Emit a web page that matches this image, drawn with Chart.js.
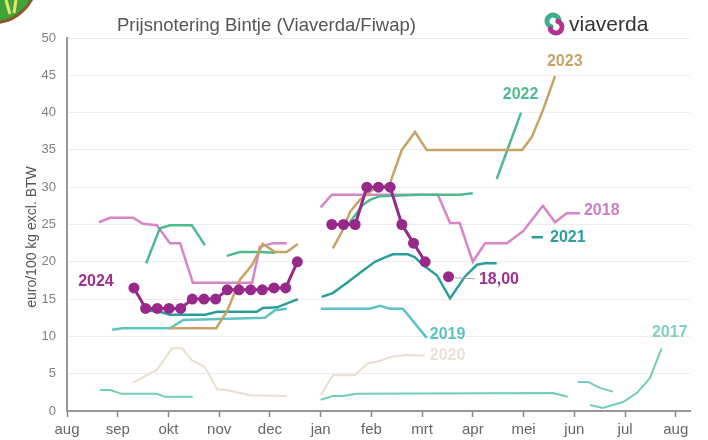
<!DOCTYPE html>
<html>
<head>
<meta charset="utf-8">
<script src="https://cdn.jsdelivr.net/npm/chart.js@4.4.1/dist/chart.umd.min.js"></script>
<style>
  html, body { margin: 0; padding: 0; background: #fff; }
  #wrap { width: 708px; height: 440px; }
</style>
</head>
<body>
<div id="wrap"><canvas id="chart" width="708" height="440"></canvas></div>
<script>
// month axis: 0 = aug, 12 = aug next year
const months = ['aug', 'sep', 'okt', 'nov', 'dec', 'jan', 'feb', 'mrt', 'apr', 'mei', 'jun', 'jul', 'aug'];

// x = month position, y = euro/100 kg (null = gap)
const x2024 = [1.32, 1.55, 1.78, 2.01, 2.24, 2.47, 2.70, 2.93, 3.16, 3.39, 3.62, 3.85, 4.08, 4.31, 4.54, 4.9,
               5.22, 5.45, 5.68, 5.91, 6.14, 6.37, 6.60, 6.83, 7.06, 7.29, 7.52];
const y2024 = [16.5, 13.75, 13.75, 13.75, 13.75, 15, 15, 15, 16.25, 16.25, 16.25, 16.25, 16.5, 16.5, 20, null,
               25, 25, 25, 30, 30, 30, 25, 22.5, 20, null, 18];

const x2023 = [2.01, 2.94, 3.15, 3.41, 3.65, 3.86, 4.10, 4.33, 4.55, 4.9,
               5.24, 5.44, 5.58, 5.77, 6.01, 6.36, 6.60, 6.86, 7.09, 8.97, 9.16, 9.38, 9.62];
const y2023 = [11.1, 11.1, 13.3, 17.6, 19.6, 22.4, 21.3, 21.3, 22.4, null,
               21.8, 24.3, 26.7, 28.3, 29.6, 30.4, 35, 37.4, 35, 35, 36.7, 40.3, 44.9];

const x2022 = [1.56, 1.83, 2.03, 2.46, 2.72, 2.9, 3.15, 3.41, 3.80, 4.10, 4.8,
               5.48, 5.71, 5.83, 5.97, 6.17, 6.96, 7.74, 8.00, 8.2, 8.47, 8.95];
const y2022 = [19.8, 24.5, 24.9, 24.9, 22.2, null, 20.8, 21.3, 21.3, 21.2, null,
               24.5, 26.5, 27.6, 28.3, 28.8, 29, 29, 29.2, null, 31.1, 40];

const x2021 = [1.54, 1.83, 2.03, 2.72, 2.96, 3.74, 3.86, 4.14, 4.55, 4.8,
               5.02, 5.24, 5.52, 5.77, 6.07, 6.27, 6.42, 6.72, 6.86, 7.01, 7.29, 7.55, 7.84, 8.08, 8.24, 8.47, 8.8, 9.16, 9.38];
const y2021 = [13.5, 13.3, 12.9, 12.9, 13.3, 13.3, 13.8, 13.9, 15, null,
               15.3, 15.8, 17.2, 18.5, 20, 20.6, 21, 21, 20.6, 19.6, 18.2, 15.1, 18, 19.6, 19.8, 19.8, null, 23.3, 23.3];

const x2019 = [0.89, 1.10, 2.03, 2.29, 3.90, 4.10, 4.33, 4.7,
               5.00, 5.97, 6.17, 6.36, 6.62, 7.09];
const y2019 = [10.9, 11.1, 11.1, 12.2, 12.5, 13.5, 13.7, null,
               13.7, 13.7, 14.1, 13.7, 13.7, 9.8];

const x2020 = [1.30, 1.77, 2.07, 2.27, 2.46, 2.72, 2.96, 3.15, 3.61, 4.33, 4.7,
               5.00, 5.24, 5.67, 5.93, 6.11, 6.42, 6.70, 7.05];
const y2020 = [3.8, 5.5, 8.4, 8.4, 6.8, 5.9, 2.9, 2.8, 2.1, 2.0, null,
               2.1, 4.8, 4.8, 6.4, 6.6, 7.3, 7.5, 7.4];

const x2018 = [0.63, 0.85, 1.30, 1.50, 1.77, 2.03, 2.23, 2.48, 3.65, 3.80, 4.06, 4.33, 4.7,
               5.00, 5.22, 7.31, 7.55, 7.74, 8.00, 8.24, 8.67, 8.99, 9.38, 9.62, 9.85, 10.11];
const y2018 = [25.3, 25.9, 25.9, 25.1, 24.9, 22.5, 22.5, 17.2, 17.2, 22, 22.5, 22.5, null,
               27.3, 29, 29, 25.2, 25.2, 20, 22.5, 22.5, 24.1, 27.5, 25.3, 26.5, 26.5];

const x2017 = [0.65, 0.85, 1.08, 1.77, 1.93, 2.48, 3.5,
               5.00, 5.24, 5.44, 5.71, 9.58, 9.87, 9.95, 10.07, 10.27, 10.50, 10.76];
const y2017 = [2.8, 2.8, 2.3, 2.3, 1.9, 1.9, null,
               1.5, 2.0, 2.0, 2.3, 2.4, 1.9, null, 3.9, 3.9, 3.1, 2.6];
const x2017b = [10.31, 10.56, 10.96, 11.23, 11.49, 11.72];
const y2017b = [0.8, 0.4, 1.2, 2.4, 4.4, 8.4];

function pts(xs, ys) {
    return xs.map((x, i) => ({ x: x, y: ys[i] }));
}

function line(label, xs, ys, color, width) {
    return {
        label: label,
        data: pts(xs, ys),
        borderColor: color,
        backgroundColor: color,
        borderWidth: width || 2.5,
        pointRadius: 0,
        tension: 0,
        spanGaps: false
    };
}

const purple = '#96298a';

const datasets = [
    Object.assign(line('2024', x2024, y2024, purple, 3), {
        pointRadius: 5.5, pointBackgroundColor: purple, pointBorderWidth: 0
    }),
    line('2023', x2023, y2023, '#c9a266'),
    line('2022', x2022, y2022, '#4dbb8e'),
    line('2021', x2021, y2021, '#2b9e9c'),
    line('2018', x2018, y2018, '#d884c8'),
    line('2019', x2019, y2019, '#5cc3c3'),
    line('2017', x2017, y2017, '#72cdb9', 2),
    line('2017b', x2017b, y2017b, '#72cdb9', 2),
    line('2020', x2020, y2020, '#e9dfcf', 2)
];

// series labels written next to the lines (data coordinates)
const notes = [
    { text: '2024', x: 0.22, y: 17.3, color: '#a0308f' },
    { text: '2023', x: 9.46, y: 46.8, color: '#c9a266' },
    { text: '2022', x: 8.59, y: 42.4, color: '#4dbb8e' },
    { text: '2018', x: 10.19, y: 26.9, color: '#d07cc0' },
    { text: '2021', x: 9.52, y: 23.2, color: '#2b9e9c' },
    { text: '18,00', x: 8.12, y: 17.6, color: '#a0308f' },
    { text: '2019', x: 7.15, y: 10.2, color: '#5cc3c3' },
    { text: '2020', x: 7.15, y: 7.4, color: '#ebe2d4' },
    { text: '2017', x: 11.53, y: 10.5, color: '#7fd0c2' }
];

const decor = {
    id: 'decor',
    afterDraw(chart) {
        const ctx = chart.ctx;
        const xs = chart.scales.x, ys = chart.scales.y;
        ctx.save();

        // corner logo (partly cut off)
        ctx.beginPath();
        ctx.arc(-8, -22, 45, 0, Math.PI * 2);
        ctx.fillStyle = '#3ea53c';
        ctx.fill();
        ctx.lineWidth = 3;
        ctx.strokeStyle = '#8b5a2b';
        ctx.stroke();
        ctx.strokeStyle = '#e8e46a';
        ctx.lineWidth = 3;
        ctx.beginPath();
        ctx.moveTo(6, 0); ctx.lineTo(10, 14);
        ctx.moveTo(16, 0); ctx.lineTo(14, 13);
        ctx.stroke();

        // title
        ctx.fillStyle = '#555';
        ctx.font = '18.5px "Liberation Sans", Arial, sans-serif';
        ctx.textAlign = 'left';
        ctx.textBaseline = 'alphabetic';
        ctx.fillText('Prijsnotering Bintje (Viaverda/Fiwap)', 117, 31);

        // viaverda logo
        ctx.lineCap = 'round';
        ctx.lineWidth = 5;
        ctx.strokeStyle = '#3fae8c';
        ctx.beginPath();
        ctx.arc(553, 21, 6, Math.PI * 0.6, Math.PI * 1.9);
        ctx.stroke();
        ctx.strokeStyle = '#b2338f';
        ctx.beginPath();
        ctx.arc(556, 27, 6, Math.PI * -0.4, Math.PI * 0.9);
        ctx.stroke();
        ctx.lineCap = 'butt';
        ctx.fillStyle = '#333';
        ctx.font = '21px "Liberation Sans", Arial, sans-serif';
        ctx.fillText('viaverda', 569, 31);

        // y axis title
        ctx.save();
        ctx.translate(32, 237);
        ctx.rotate(-Math.PI / 2);
        ctx.textAlign = 'center';
        ctx.textBaseline = 'middle';
        ctx.fillStyle = '#555';
        ctx.font = '14px "Liberation Sans", Arial, sans-serif';
        ctx.fillText('euro/100 kg excl. BTW', 0, 0);
        ctx.restore();

        // leader line for the last quote
        const lx = xs.getPixelForValue(x2024[x2024.length - 1]);
        const ly = ys.getPixelForValue(y2024[y2024.length - 1]);
        ctx.strokeStyle = '#aaa';
        ctx.lineWidth = 1;
        ctx.beginPath();
        ctx.moveTo(lx + 6, ly + 1);
        ctx.lineTo(xs.getPixelForValue(8.12) - 4, ly + 2);
        ctx.stroke();

        // line labels
        ctx.font = 'bold 16px "Liberation Sans", Arial, sans-serif';
        ctx.textAlign = 'left';
        ctx.textBaseline = 'middle';
        notes.forEach(n => {
            ctx.fillStyle = n.color;
            ctx.fillText(n.text, xs.getPixelForValue(n.x), ys.getPixelForValue(n.y));
        });
        ctx.restore();
    }
};

new Chart(document.getElementById('chart'), {
    type: 'line',
    data: { datasets: datasets },
    options: {
        responsive: false,
        animation: false,
        devicePixelRatio: 1,
        layout: { padding: { top: 38, right: 18, left: 0, bottom: 0 } },
        plugins: {
            legend: { display: false },
            tooltip: { enabled: false }
        },
        scales: {
            x: {
                type: 'linear',
                min: 0,
                max: 12.28,
                afterFit: s => { s.height = 29; },
                ticks: {
                    stepSize: 1,
                    includeBounds: false,
                    autoSkip: false,
                    maxRotation: 0,
                    padding: 4,
                    color: '#666',
                    font: { size: 15, family: '"Liberation Sans", Arial, sans-serif' },
                    callback: v => Number.isInteger(v) ? months[v] : ''
                },
                grid: { drawOnChartArea: false, color: '#888', tickLength: 6, tickWidth: 1.5 },
                border: { color: '#999', width: 2 }
            },
            y: {
                min: 0,
                max: 50,
                afterFit: s => { s.width = 67; },
                ticks: {
                    stepSize: 5,
                    padding: 11,
                    color: '#808080',
                    font: { size: 13, family: '"Liberation Sans", Arial, sans-serif' }
                },
                grid: { color: '#ededed', drawTicks: false },
                border: { color: '#999', width: 2 }
            }
        }
    },
    plugins: [decor]
});
</script>
</body>
</html>
